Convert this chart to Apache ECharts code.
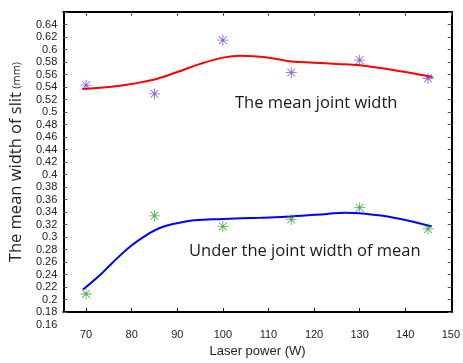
<!DOCTYPE html>
<html>
<head>
<meta charset="utf-8">
<script src="https://cdn.jsdelivr.net/npm/echarts@6/dist/echarts.min.js"></script>
<style>html,body{margin:0;padding:0;background:#fff;}#c{width:463px;height:363px;}</style>
</head>
<body>
<div id="c"></div>
<script>
// ---- data ----
const xTicks = [70, 80, 90, 100, 110, 120, 130, 140, 150];
const powers = [70, 85, 100, 115, 130, 145];
const meanWidth = [0.543, 0.529, 0.615, 0.563, 0.583, 0.554];
const underWidth = [0.209, 0.334, 0.317, 0.328, 0.347, 0.313];
const meanFitX = [69.2, 75, 80, 85, 90, 95, 100, 104, 110, 115, 120, 125, 130, 135, 140, 146];
const meanFitY = [0.537, 0.540, 0.545, 0.552, 0.564, 0.577, 0.587, 0.590, 0.587, 0.581, 0.579, 0.577, 0.575, 0.570, 0.564, 0.556];
const underFitX = [69.3, 73.3, 75.5, 79.7, 84.1, 86.3, 88.6, 93.7, 100, 108.3, 115, 122.9, 126.7, 130, 137.5, 145.8];
const underFitY = [0.216, 0.241, 0.257, 0.285, 0.307, 0.315, 0.320, 0.327, 0.329, 0.331, 0.333, 0.337, 0.339, 0.338, 0.331, 0.317];
const extraYLabel = 0.16;

const zip = (a, b) => a.map((v, i) => [v, b[i]]);

const star = 'path://M9.25,0L10.75,0L10.75,20L9.25,20Z M0,9.25L20,9.25L20,10.75L0,10.75Z ' +
  'M3.43,2.37L17.63,16.57L16.57,17.63L2.37,3.43Z M17.63,3.43L3.43,17.63L2.37,16.57L16.57,2.37Z';

const chart = echarts.init(document.getElementById('c'), null, {renderer: 'canvas'});
const axisFont = {fontFamily: 'Liberation Sans, Arial, sans-serif', fontSize: 11, color: '#222'};
const lineStyle = {color: '#000', width: 2};
const annFont = 'Open Sans, Noto Sans, sans-serif';

const option = {
  animation: false,
  backgroundColor: '#fff',
  grid: {left: 62, top: 12, right: 10, bottom: 43},
  xAxis: [{
    type: 'value', min: 65, max: 150.2, position: 'bottom',
    axisLine: {show: true, lineStyle: lineStyle},
    axisTick: {show: true, inside: true, length: 4, customValues: xTicks, lineStyle: {color: '#000', width: 1}},
    axisLabel: Object.assign({show: true, margin: 17, customValues: xTicks}, axisFont),
    splitLine: {show: false},
    name: 'Laser power (W)', nameLocation: 'middle', nameGap: 27,
    nameTextStyle: {fontFamily: 'Liberation Sans, Arial, sans-serif', fontSize: 13, color: '#222'}
  }, {
    type: 'value', min: 65, max: 150.2, position: 'top',
    axisLine: {show: true, lineStyle: lineStyle},
    axisTick: {show: true, inside: true, length: 4, customValues: xTicks, lineStyle: {color: '#555', width: 1}},
    axisLabel: {show: false}, splitLine: {show: false}
  }],
  yAxis: [{
    type: 'value', min: 0.18, max: 0.66, interval: 0.02, position: 'left',
    axisLine: {show: true, lineStyle: lineStyle},
    axisTick: {show: true, inside: true, length: 4, lineStyle: {color: '#555', width: 1}},
    axisLabel: Object.assign({show: true, margin: 6, formatter: v => (v > 0.65 ? '' : String(+v.toFixed(2)))}, axisFont),
    splitLine: {show: false},
    name: '{a|The mean width of slit} {b|(mm)}', nameLocation: 'middle', nameGap: 35, nameRotate: 90,
    nameTextStyle: {
      rich: {
        a: {fontFamily: annFont, fontSize: 16.5, color: '#222'},
        b: {fontFamily: annFont, fontSize: 11, color: '#222'}
      }
    }
  }, {
    type: 'value', min: 0.18, max: 0.66, interval: 0.02, position: 'right',
    axisLine: {show: true, lineStyle: lineStyle},
    axisTick: {show: true, inside: true, length: 4, lineStyle: {color: '#555', width: 1}},
    axisLabel: {show: false}, splitLine: {show: false}
  }],
  series: [{
    type: 'line', data: zip(meanFitX, meanFitY), smooth: 0.4, showSymbol: false,
    lineStyle: {color: '#ff0000', width: 2}, z: 2
  }, {
    type: 'line', data: zip(underFitX, underFitY), smooth: 0.4, showSymbol: false,
    lineStyle: {color: '#0000ff', width: 2}, z: 2
  }, {
    type: 'scatter', data: zip(powers, meanWidth), symbol: star, symbolSize: 11,
    itemStyle: {color: '#6a2fc8'}, z: 3
  }, {
    type: 'scatter', data: zip(powers, underWidth), symbol: star, symbolSize: 11,
    itemStyle: {color: '#1f9a1f'}, z: 3
  }]
};
chart.setOption(option);

const p = chart.convertToPixel({xAxisIndex: 0, yAxisIndex: 0}, [65, extraYLabel]);
chart.setOption({
  graphic: [{
    type: 'text', left: 235, top: 95,
    style: {text: 'The mean joint width', fontFamily: annFont, fontSize: 16.5, fill: '#1a1a1a'}
  }, {
    type: 'text', left: 189, top: 243,
    style: {text: 'Under the joint width of mean', fontFamily: annFont, fontSize: 16.5, fill: '#1a1a1a'}
  }, {
    type: 'text', x: p[0] - 6, y: p[1],
    style: {text: String(extraYLabel), align: 'right', verticalAlign: 'middle',
      fontFamily: 'Liberation Sans, Arial, sans-serif', fontSize: 11, fill: '#222'}
  }]
});
</script>
</body>
</html>
